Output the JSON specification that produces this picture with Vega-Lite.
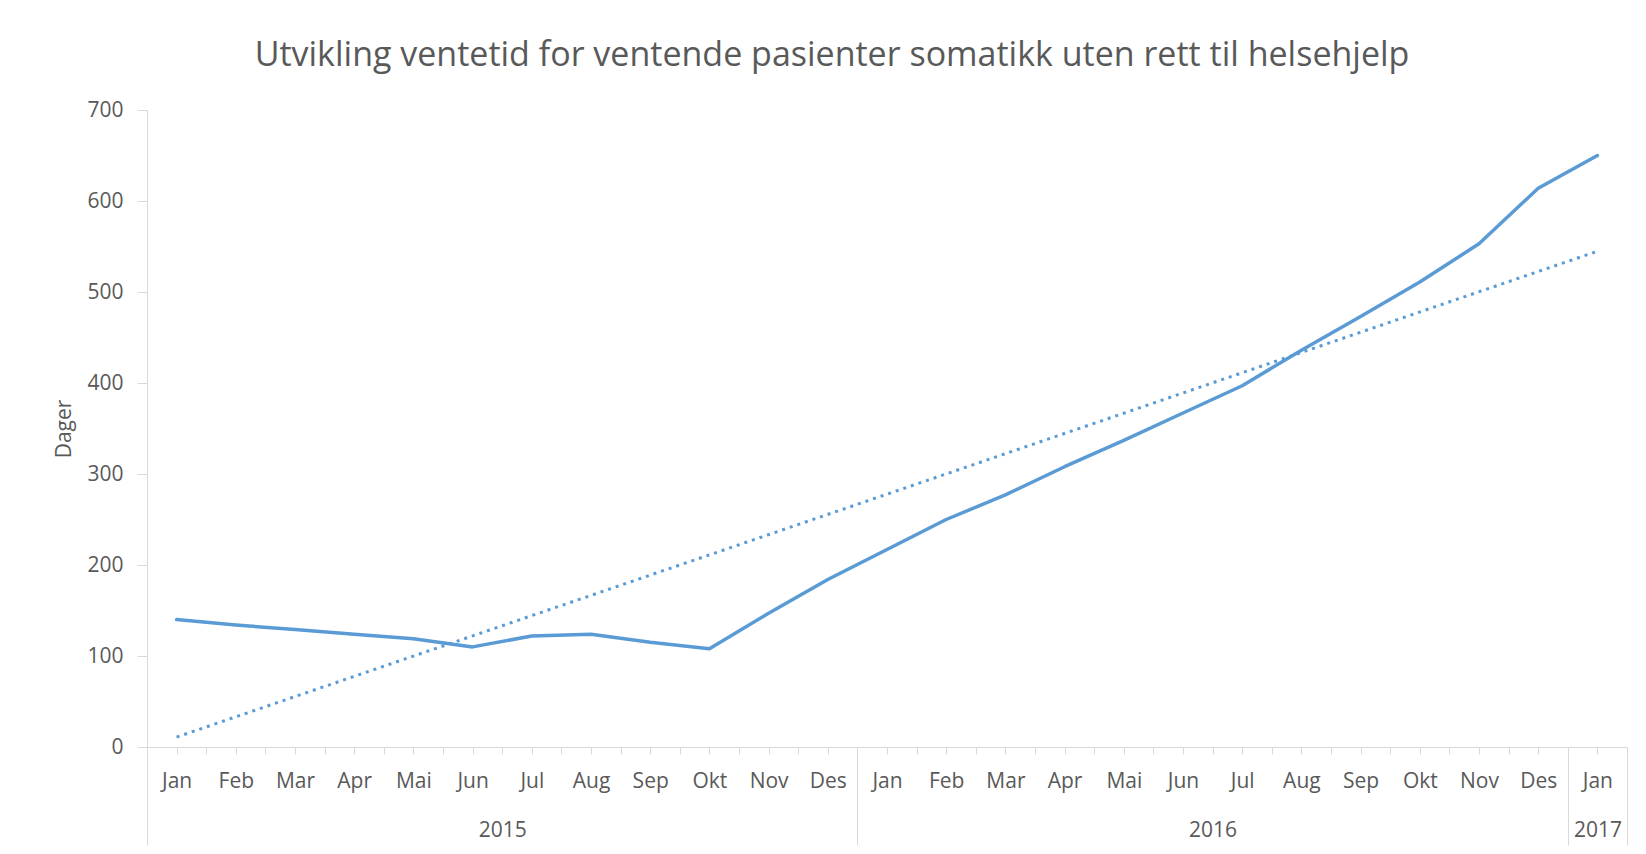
{
  "$schema": "https://vega.github.io/schema/vega-lite/v6.json",
  "width": 1480,
  "height": 637,
  "autosize": "none",
  "padding": {"left": 147, "top": 110, "right": 19, "bottom": 107},
  "background": "white",
  "config": {"view": {"stroke": null}, "font": "Open Sans"},
  "title": {
    "text": "Utvikling ventetid for ventende pasienter somatikk uten rett til helsehjelp",
    "anchor": "middle",
    "dx": -55,
    "fontSize": 34,
    "font": "Open Sans",
    "fontWeight": "normal",
    "color": "#595959",
    "baseline": "alphabetic",
    "offset": -1
  },
  "data": {
    "values": [
      {"i": 0, "v": 140}, {"i": 1, "v": 134}, {"i": 2, "v": 129}, {"i": 3, "v": 124},
      {"i": 4, "v": 119}, {"i": 5, "v": 110}, {"i": 6, "v": 122}, {"i": 7, "v": 124},
      {"i": 8, "v": 115}, {"i": 9, "v": 108}, {"i": 10, "v": 147}, {"i": 11, "v": 184},
      {"i": 12, "v": 217}, {"i": 13, "v": 250}, {"i": 14, "v": 277}, {"i": 15, "v": 308},
      {"i": 16, "v": 337}, {"i": 17, "v": 367}, {"i": 18, "v": 397}, {"i": 19, "v": 436},
      {"i": 20, "v": 473}, {"i": 21, "v": 511}, {"i": 22, "v": 553}, {"i": 23, "v": 614},
      {"i": 24, "v": 650}
    ]
  },
  "encoding": {
    "y": {
      "field": "v", "type": "quantitative",
      "scale": {"domain": [0, 700], "nice": false},
      "title": "Dager",
      "axis": {
        "values": [0, 100, 200, 300, 400, 500, 600, 700],
        "grid": false,
        "tickSize": 10,
        "tickColor": "#d9d9d9",
        "domainColor": "#d9d9d9",
        "labelFontSize": 21,
        "labelColor": "#595959",
        "labelPadding": 14,
        "titleFontSize": 21,
        "titleColor": "#595959",
        "titleFontWeight": "normal",
        "titlePadding": 12
      }
    }
  },
  "resolve": {"axis": {"x": "independent"}},
  "layer": [
    {
      "mark": {"type": "line", "color": "#5B9BD5", "strokeWidth": 3.5, "strokeCap": "round", "strokeJoin": "round"},
      "encoding": {
        "x": {
          "field": "i", "type": "quantitative",
          "scale": {"domain": [-0.5, 24.5], "nice": false, "zero": false},
          "axis": {
            "orient": "bottom",
            "title": null,
            "values": [-0.5, 0, 0.5, 1, 1.5, 2, 2.5, 3, 3.5, 4, 4.5, 5, 5.5, 6, 6.5, 7, 7.5, 8, 8.5, 9, 9.5, 10, 10.5, 11, 11.5, 12, 12.5, 13, 13.5, 14, 14.5, 15, 15.5, 16, 16.5, 17, 17.5, 18, 18.5, 19, 19.5, 20, 20.5, 21, 21.5, 22, 22.5, 23, 23.5, 24, 24.5],
            "labelExpr": "datum.value % 1 == 0 ? ['Jan','Feb','Mar','Apr','Mai','Jun','Jul','Aug','Sep','Okt','Nov','Des'][datum.value % 12] : ''",
            "grid": false,
            "tickSize": 7,
            "tickColor": "#d9d9d9",
            "domainColor": "#d9d9d9",
            "labelFontSize": 21,
            "labelColor": "#595959",
            "labelPadding": 16,
            "labelFlush": false,
            "labelOverlap": false,
            "labelBound": false
          }
        }
      }
    },
    {
      "transform": [{"regression": "v", "on": "i"}],
      "mark": {"type": "line", "color": "#5B9BD5", "strokeWidth": 3, "strokeDash": [3, 5]},
      "encoding": {
        "x": {
          "field": "i", "type": "quantitative",
          "axis": {
            "orient": "bottom",
            "title": null,
            "values": [-0.5, 11.5, 23.5, 24.5],
            "labels": false,
            "domain": false,
            "grid": false,
            "tickSize": 98,
            "tickColor": "#d9d9d9"
          }
        }
      }
    },
    {
      "mark": {"type": "point", "opacity": 0},
      "encoding": {
        "x": {
          "field": "i", "type": "quantitative",
          "axis": {
            "orient": "bottom",
            "title": null,
            "values": [5.5, 17.5, 24],
            "labelExpr": "datum.value == 5.5 ? '2015' : datum.value == 17.5 ? '2016' : '2017'",
            "ticks": false,
            "domain": false,
            "grid": false,
            "labelFontSize": 21,
            "labelColor": "#595959",
            "labelPadding": 72,
            "labelFlush": false,
            "labelOverlap": false,
            "labelBound": false
          }
        }
      }
    }
  ]
}
